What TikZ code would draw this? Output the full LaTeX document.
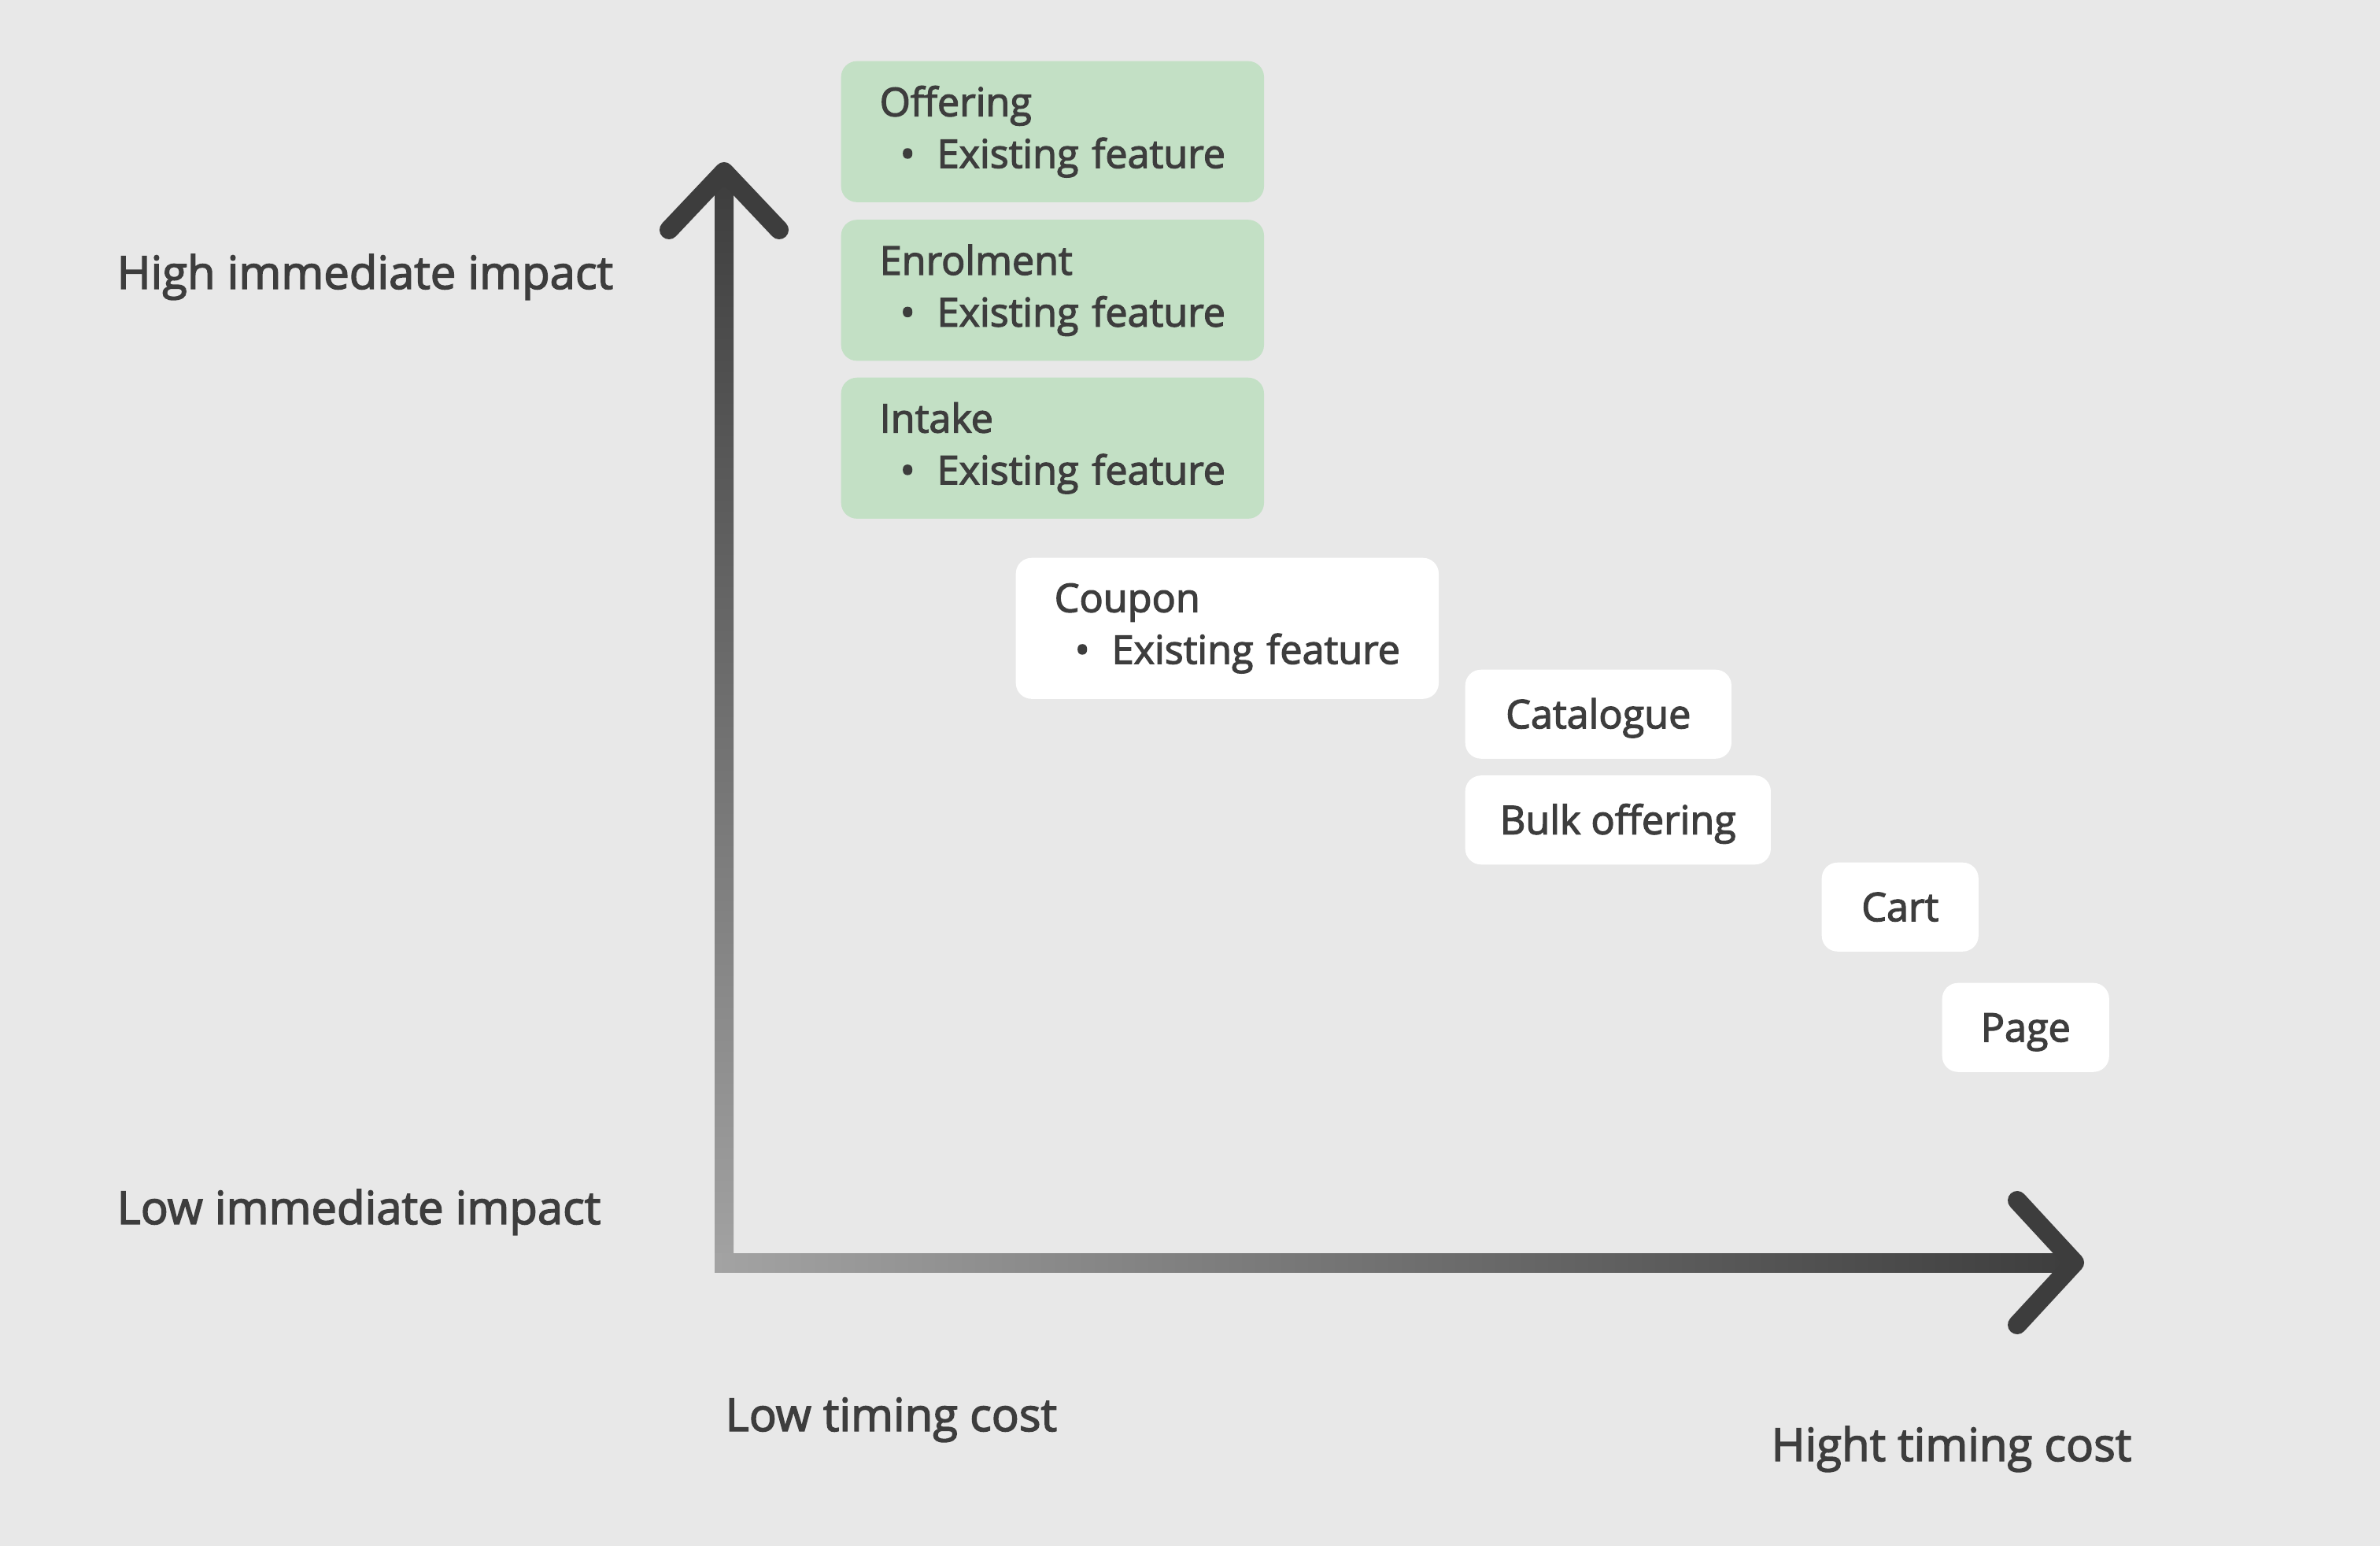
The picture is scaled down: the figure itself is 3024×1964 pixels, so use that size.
\documentclass[tikz,border=0pt]{standalone}
\usepackage{fontspec}
\setmainfont{Open Sans}
\newfontfamily\semifont{Open Sans}[FakeBold=2.5]
\usetikzlibrary{positioning}

\definecolor{bggrey}{HTML}{E8E8E8}
\definecolor{ink}{HTML}{3D3D3D}
\definecolor{axislight}{HTML}{A3A3A3}
\definecolor{boxgreen}{HTML}{C3E0C5}

\newcommand{\featline}[1]{\\\mbox{\hspace*{0.26cm}\textbullet\hspace{0.28cm}#1}}

\begin{document}
\begin{tikzpicture}[
    x=0.01cm, y=-0.01cm,
    card/.style={rectangle, rounded corners=0.2cm, text=ink, inner ysep=0pt,
        font=\semifont\fontsize{14.3}{18.7}\selectfont},
    featbox/.style={card, fill=boxgreen, inner xsep=0.49cm, text width=4.39cm,
        minimum height=1.79cm, align=left, anchor=north west},
    plainbox/.style={card, fill=white, inner xsep=0pt, minimum height=1.13cm,
        text height=10.2pt, text depth=0pt, align=center, anchor=north west},
    axislabel/.style={text=ink, inner sep=0pt, anchor=base west,
        font=\semifont\fontsize{16.5}{20}\selectfont},
    chevron/.style={ink, line width=0.24cm, line cap=round, line join=round}
]

% background
\fill[bggrey] (0,0) rectangle (3024,1964);

% Axes
\coordinate (origin) at (920,1604);
\coordinate (ytip) at (920,218);
\coordinate (xtip) at (2636,1604);

\shade[top color=ink, bottom color=axislight]
    ([xshift=-0.12cm]ytip) rectangle ([xshift=0.12cm, yshift=-0.12cm]origin);
\shade[left color=axislight, right color=ink]
    ([xshift=-0.12cm, yshift=0.12cm]origin) rectangle ([yshift=-0.12cm]xtip);
\draw[chevron] ([shift={(-70,74)}]ytip) -- (ytip) -- ([shift={(70,74)}]ytip);
\draw[chevron] ([shift={(-73,-79)}]xtip) -- (xtip) -- ([shift={(-73,79)}]xtip);

\node[axislabel] (hi) at (148,367) {High immediate impact};
\node[axislabel] (lo) at (148,1555) {Low immediate impact};
\node[axislabel] (lc) at (921,1818) {Low timing cost};
\node[axislabel] (hc) at (2250,1856) {Hight timing cost};

% Existing features
\node[featbox] (off) at (1068,77) {Offering\featline{Existing feature}};
\node[featbox, below=0.21cm of off] (enr) {Enrolment\featline{Existing feature}};
\node[featbox, below=0.2cm of enr] (intk) {Intake\featline{Existing feature}};
\node[featbox, fill=white] (coup) at (1290,708) {Coupon\featline{Existing feature}};

% New features
\node[plainbox, minimum width=3.38cm] (cat) at (1861,850) {Catalogue};
\node[plainbox, minimum width=3.88cm, below=0.2cm of cat.south west, anchor=north west] (bulk) {Bulk offering};
\node[plainbox, minimum width=1.99cm] (cart) at (2314,1095) {Cart};
\node[plainbox, minimum width=2.12cm] (page) at (2467,1248) {Page};

\end{tikzpicture}
\end{document}
